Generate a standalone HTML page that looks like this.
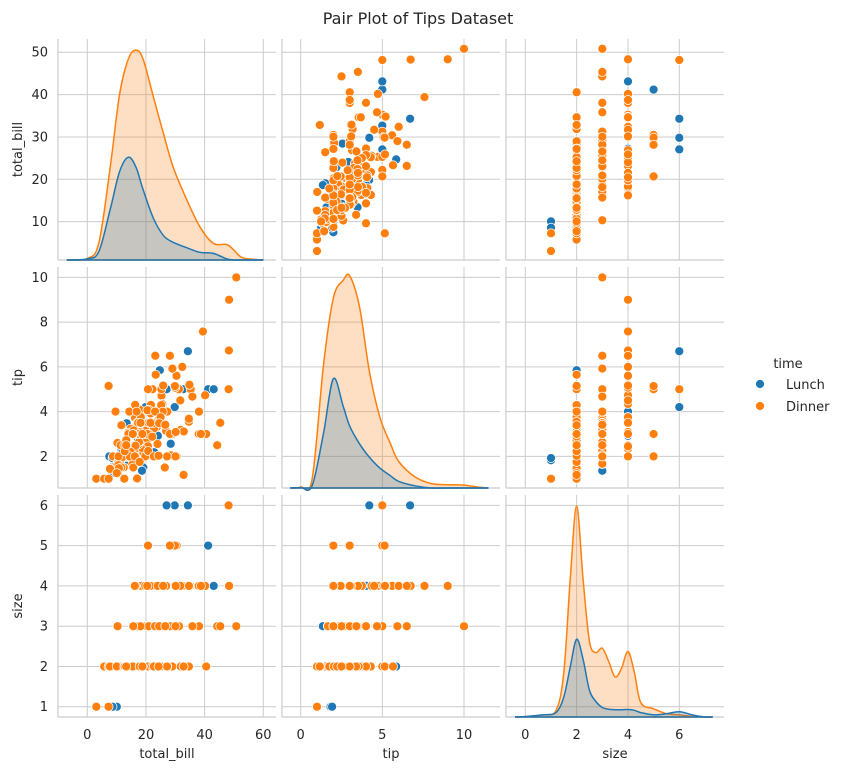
<!DOCTYPE html>
<html><head><meta charset="utf-8"><style>
body{margin:0;background:#fff}
svg{display:block;font-family:"DejaVu Sans","Liberation Sans",sans-serif}
</style></head><body>
<svg id="chart" width="844" height="770" viewBox="0 0 844 770">
<text x="418" y="24" text-anchor="middle" font-size="16" fill="#262626">Pair Plot of Tips Dataset</text>
<g id="grid"></g>
<g id="diag"></g>
<g id="pts"></g>
<g id="labels"></g>
<g>
<text x="788" y="368" text-anchor="middle" font-size="13" fill="#262626">time</text>
<circle cx="760" cy="384" r="4.5" fill="#1f77b4" stroke="#fff" stroke-width="0.75"/>
<text x="786" y="389" font-size="13" fill="#262626">Lunch</text>
<circle cx="760" cy="406" r="4.5" fill="#ff7f0e" stroke="#fff" stroke-width="0.75"/>
<text x="786" y="411" font-size="13" fill="#262626">Dinner</text>
</g>
</svg>
<script>
// data rows: total_bill tip size
const lunchRows = "27.2 4 4;22.76 3 2;17.29 2.71 2;19.44 3 2;16.66 3.4 2;10.07 1.83 1;32.68 5 2;15.98 2.03 2;34.83 5.17 4;13.03 2 2;18.28 4 2;24.71 5.85 2;21.16 3 2;10.65 1.5 2;12.43 1.8 2;24.08 2.92 4;11.69 2.31 2;13.42 1.68 2;14.26 2.5 2;15.95 2 2;12.48 2.52 2;29.8 4.2 6;8.52 1.48 2;14.52 2 2;11.38 2 2;22.82 2.18 3;19.08 1.5 2;20.27 2.83 2;11.17 1.5 2;12.26 2 2;18.26 3.25 2;8.51 1.25 2;10.33 2 2;14.15 2 2;16 2 2;13.16 2.75 2;17.47 3.5 2;34.3 6.7 6;41.19 5 5;27.05 5 6;16.43 2.3 2;8.35 1.5 2;18.64 1.36 3;11.87 1.63 2;9.78 1.73 2;7.51 2 2;19.81 4.19 2;28.44 2.56 2;15.48 2.02 2;16.58 4 2;7.56 1.44 2;10.34 2 2;43.11 5 4;13 2 2;13.51 2 2;18.71 4 3;12.74 2.01 2;16.4 2.5 2;20.53 4 4;16.47 3.23 3;12.16 2.2 2;13.42 3.48 2;8.58 1.92 1;15.98 3 3;13.42 1.58 2;16.27 2.5 2;10.09 2 2";
const dinnerRows = "16.99 1.01 2;10.34 1.66 3;21.01 3.5 3;23.68 3.31 2;24.59 3.61 4;25.29 4.71 4;8.77 2 2;26.88 3.12 4;15.04 1.96 2;14.78 3.23 2;10.27 1.71 2;35.26 5 4;15.42 1.57 2;18.43 3 4;14.83 3.02 2;21.58 3.92 2;10.33 1.67 3;16.29 3.71 3;16.97 3.5 3;20.65 3.35 3;17.92 4.08 2;20.29 2.75 2;15.77 2.23 2;39.42 7.58 4;19.82 3.18 2;17.81 2.34 4;13.37 2 2;12.69 2 2;21.7 4.3 2;19.65 3 2;9.55 1.45 2;18.35 2.5 4;15.06 3 2;20.69 2.45 4;17.78 3.27 2;24.06 3.6 3;16.31 2 3;16.93 3.07 3;18.69 2.31 3;31.27 5 3;16.04 2.24 3;17.46 2.54 2;13.94 3.06 2;9.68 1.32 2;30.4 5.6 4;18.29 3 2;22.23 5 2;32.4 6 4;28.55 2.05 3;18.04 3 2;12.54 2.5 2;10.29 2.6 2;34.81 5.2 4;9.94 1.56 2;25.56 4.34 4;19.49 3.51 2;38.01 3 4;26.41 1.5 2;11.24 1.76 2;48.27 6.73 4;20.29 3.21 2;13.81 2 2;11.02 1.98 2;18.29 3.76 4;17.59 2.64 3;20.08 3.15 3;16.45 2.47 2;3.07 1 1;20.23 2.01 2;15.01 2.09 2;12.02 1.97 2;17.07 3 3;26.86 3.14 2;25.28 5 2;14.73 2.2 2;10.51 1.25 2;17.92 3.08 2;28.97 3 2;22.49 3.5 2;5.75 1 2;16.32 4.3 2;22.75 3.25 2;40.17 4.73 4;27.28 4 2;12.03 1.5 2;21.01 3 2;12.46 1.5 2;11.35 2.5 2;15.38 3 2;44.3 2.5 3;22.42 3.48 2;20.92 4.08 2;15.36 1.64 2;20.49 4.06 2;25.21 4.29 2;18.24 3.76 2;14.31 4 2;14 3 2;7.25 1 1;38.07 4 3;23.95 2.55 2;25.71 4 3;17.31 3.5 2;29.93 5.07 4;50.81 10 3;15.81 3.16 2;7.25 5.15 2;31.85 3.18 2;16.82 4 2;32.9 3.11 2;17.89 2 2;14.48 2 2;9.6 4 2;34.63 3.55 2;34.65 3.68 4;23.33 5.65 2;45.35 3.5 3;23.17 6.5 4;40.55 3 2;20.69 5 5;20.9 3.5 3;30.46 2 5;18.15 3.5 3;23.1 4 3;15.69 1.5 2;19.77 2 4;29.85 5.14 5;48.17 5 6;25 3.75 4;13.39 2.61 2;16.49 2 4;21.5 3.5 4;12.66 2.5 2;16.21 2 4;17.51 3 2;24.52 3.48 3;20.76 2.24 2;31.71 4.5 4;10.59 1.61 2;10.63 2 2;28.15 3 5;11.59 1.5 2;7.74 1.44 2;30.14 3.09 4;20.45 3 4;13.28 2.72 2;22.12 2.88 2;24.01 2 4;15.69 3 3;11.61 3.39 2;10.77 1.47 2;15.53 3 2;10.07 1.25 2;12.6 1 2;32.83 1.17 2;35.83 4.67 3;29.03 5.92 3;27.18 2 2;22.67 2 2;17.82 1.75 2;18.78 3 2;48.33 9 4;28.17 6.5 3;26.59 3.41 3;38.73 3 4;24.27 2.03 2;12.76 2.23 2;30.06 2 3;25.89 5.16 4;13.27 2.5 2";

const variables = ["total_bill","tip","size"];
const ticksBill = [10,20,30,40,50];
const ticksBillX = [0,20,40,60];
const ticksTip = [2,4,6,8,10];
const ticksTipX = [0,5,10];
const ticksSize = [1,2,3,4,5,6];
const ticksSizeX = [0,2,4,6];

// KDE curves (density in % of panel height)
const kdeBillX = [-7,0,4,8,11,14,16.6,19,22.5,26,29.3,34,38.4,43,47.5,50,53,60];
const kdeBillDinner = [0,0.7,8,44,75,91,95,91,74,57,42,27,15,7.5,7,4.5,1,0];
const kdeBillLunch = [0,0.5,4,24,40,46.5,42,32,19,11,8,5.5,3.5,3,0.5,0,0,0];
const kdeTipX = [-0.65,0,0.7,1.4,2,2.6,3,3.6,4.2,4.85,5.5,6,7,8,9,10,11,11.5];
const kdeTipDinner = [0,0.5,4,56,86,94,96,82,53,32,20,12,5,2,1.5,1.3,0.3,0];
const kdeTipLunch = [0,0.2,1,25,49.5,37,28,20,14,9,5.5,3,1,0,0,0,0,0];
const kdeSizeX = [-0.4,0,0.7,1.2,1.5,1.75,2,2.25,2.5,2.75,3,3.25,3.5,3.75,4,4.25,4.5,5,5.5,6,6.5,7,7.3];
const kdeSizeDinner = [0,0.2,1,3,20,62,95,62,34,29,31,25,18,22,29.5,20,6.5,3.7,1.5,1,0.3,0,0];
const kdeSizeLunch = [0,0.2,1,2,9,22.5,35,26,12,7,4.3,3.5,3.3,3.3,3.4,3,2,1,1.5,2.4,1,0,0];

const NS = "http://www.w3.org/2000/svg";
const colL = "#1f77b4", colD = "#ff7f0e";
const colsPx = [[58,276],[282,500],[506,724]];
const rowsPx = [[39,260],[267,488],[495,717]];
const xScale = [v=>87.3+2.933*v, v=>300.7+16.33*v, v=>525.3+25.67*v];
const yScale = [v=>264-4.235*v, v=>501.1-22.375*v, v=>747-40.27*v];
const yTicks = [ticksBill,ticksTip,ticksSize];
const xTicks = [ticksBillX,ticksTipX,ticksSizeX];
function dScale(r){return d=>rowsPx[r][1]-d/100*(rowsPx[r][1]-rowsPx[r][0]);}

function mk(tag,attrs,parent){const e=document.createElementNS(NS,tag);for(const k in attrs)e.setAttribute(k,attrs[k]);parent.appendChild(e);return e;}
function parse(s,t){return s.split(";").map(r=>{const a=r.trim().split(/\s+/).map(Number);return [a[0],a[1],a[2],t];});}
const data = parse(lunchRows,"L").concat(parse(dinnerRows,"D"));

const grid=document.getElementById("grid"), pts=document.getElementById("pts"), diag=document.getElementById("diag"), labels=document.getElementById("labels");

for(let r=0;r<3;r++)for(let c=0;c<3;c++){
  const [x0,x1]=colsPx[c],[y0,y1]=rowsPx[r];
  const g=mk("g",{},grid);
  
  
  xTicks[c].forEach(t=>{const x=xScale[c](t);if(x>x0&&x<x1){const l=mk("line",{x1:x,x2:x,y1:y0,y2:y1,stroke:"#cccccc","stroke-width":1},g);}});
  yTicks[r].forEach(t=>{const y=yScale[r](t);if(y>y0&&y<y1){const l=mk("line",{x1:x0,x2:x1,y1:y,y2:y,stroke:"#cccccc","stroke-width":1},g);}});
  const s1=mk("line",{x1:x0,x2:x0,y1:y0,y2:y1,stroke:"#cccccc","stroke-width":1.2},g);
  
  const s2=mk("line",{x1:x0,x2:x1,y1:y1,y2:y1,stroke:"#cccccc","stroke-width":1.2},g);
  
  if(r!==c){
    data.forEach(d=>{
      const p=mk("circle",{cx:xScale[c](d[c]).toFixed(1),cy:yScale[r](d[r]).toFixed(1),r:4.5,fill:d[3]==="L"?colL:colD,stroke:"#fff","stroke-width":0.75},pts);
      
      
    });
  }
}

const kde=[[kdeBillX,kdeBillDinner,kdeBillLunch],[kdeTipX,kdeTipDinner,kdeTipLunch],[kdeSizeX,kdeSizeDinner,kdeSizeLunch]];
function smoothPath(xs,ys){
  let d="M"+xs[0].toFixed(1)+","+ys[0].toFixed(1);
  for(let i=0;i<xs.length-1;i++){
    const x0=xs[Math.max(i-1,0)],y0=ys[Math.max(i-1,0)],x1=xs[i],y1=ys[i],x2=xs[i+1],y2=ys[i+1],x3=xs[Math.min(i+2,xs.length-1)],y3=ys[Math.min(i+2,xs.length-1)];
    d+=" C"+(x1+(x2-x0)/6).toFixed(1)+","+(y1+(y2-y0)/6).toFixed(1)+" "+(x2-(x3-x1)/6).toFixed(1)+","+(y2-(y3-y1)/6).toFixed(1)+" "+x2.toFixed(1)+","+y2.toFixed(1);
  }
  return d;
}
for(let i=0;i<3;i++){
  const [xs,dd,ll]=kde[i]; const ds=dScale(i);
  const px=xs.map(xScale[i]);
  const base=rowsPx[i][1];
  [[dd,colD,"rgba(255,127,14,0.25)","kde-dinner"],[ll,colL,"rgba(31,119,180,0.25)","kde-lunch"]].forEach(([vals,col,fill,nm])=>{
    const py=vals.map(ds);
    const line=smoothPath(px,py);
    const f=mk("path",{d:line+" L"+px[px.length-1].toFixed(1)+","+base+" L"+px[0].toFixed(1)+","+base+" Z",fill:fill,stroke:"none"},diag);
    
    const l=mk("path",{d:line,fill:"none",stroke:col,"stroke-width":1.5},diag);
    
    const b=mk("line",{x1:px[0],x2:px[px.length-1],y1:base,y2:base,stroke:col,"stroke-width":1.5},diag);
    
  });
}

for(let r=0;r<3;r++){
  yTicks[r].forEach(t=>{const e=mk("text",{x:48,y:(yScale[r](t)+4.5).toFixed(1),"text-anchor":"end","font-size":13,fill:"#262626"},labels);e.textContent=t;});
  const cy=(rowsPx[r][0]+rowsPx[r][1])/2;
  const yl=mk("text",{x:0,y:0,transform:"translate(22,"+cy+") rotate(-90)","text-anchor":"middle","font-size":13,fill:"#262626"},labels);
  yl.textContent=variables[r];
}
for(let c=0;c<3;c++){
  xTicks[c].forEach(t=>{const e=mk("text",{x:xScale[c](t).toFixed(1),y:739,"text-anchor":"middle","font-size":13,fill:"#262626"},labels);e.textContent=t;});
  const xl=mk("text",{x:(colsPx[c][0]+colsPx[c][1])/2,y:758,"text-anchor":"middle","font-size":13,fill:"#262626"},labels);
  xl.textContent=variables[c];
}
</script>
</body></html>
